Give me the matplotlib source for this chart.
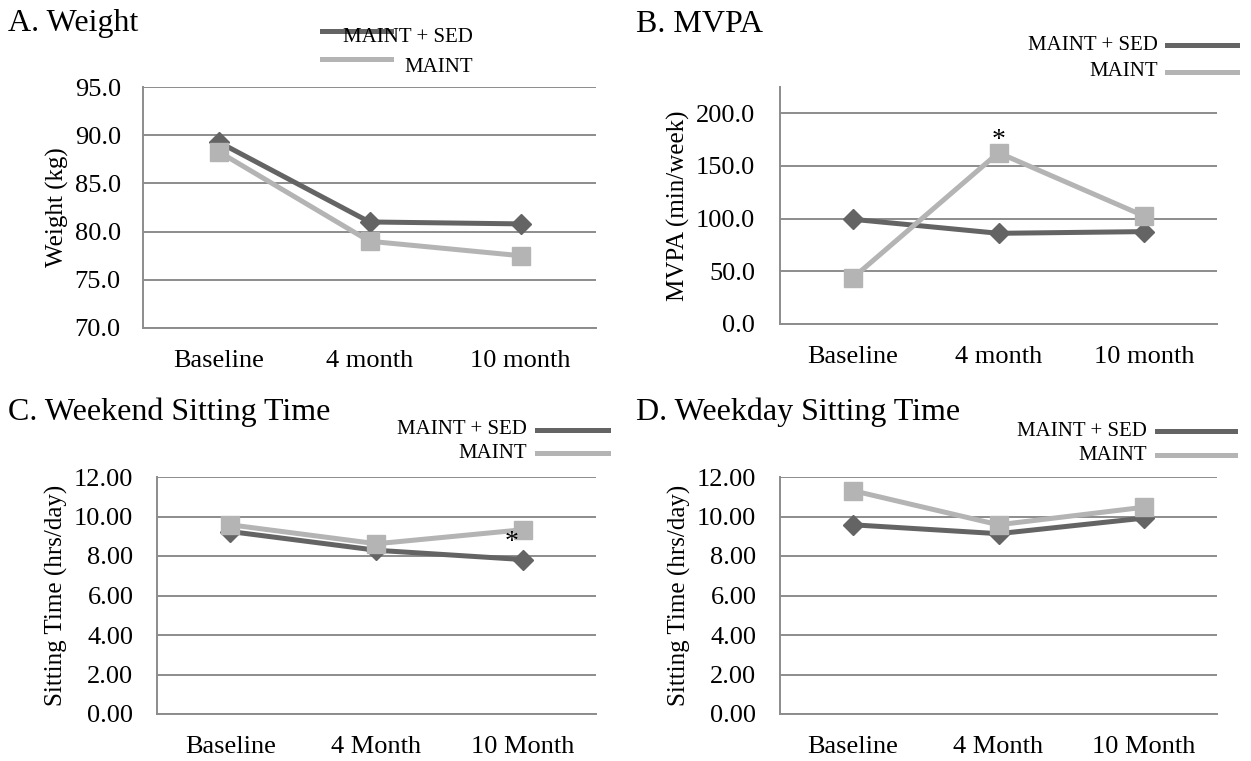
import numpy as np
import matplotlib.pyplot as plt
from matplotlib.lines import Line2D

plt.rcParams['font.family'] = ['Liberation Serif', 'DejaVu Serif']

# data
months_lower = ['Baseline', '4 month', '10 month']
months_upper = ['Baseline', '4 Month', '10 Month']

weight_sed = [89.3, 81.0, 80.8]
weight_maint = [88.3, 79.0, 77.5]

mvpa_sed = [99.4, 86.1, 87.7]
mvpa_maint = [43.7, 162.6, 102.5]

wkend_sed = [9.24, 8.29, 7.82]
wkend_maint = [9.58, 8.62, 9.33]

wkday_sed = [9.58, 9.13, 9.92]
wkday_maint = [11.31, 9.58, 10.47]

DARK = '#646464'
LIGHT = '#b4b4b4'
GRID = '#8c8c8c'
LW = 3.6

W, H = 1251, 761
fig = plt.figure(figsize=(W / 100, H / 100), dpi=100)


def px_axes(left, right, top, bottom):
    return fig.add_axes([left / W, 1 - bottom / H, (right - left) / W, (bottom - top) / H])


def style(ax, labels, ylim, yticks, fmt, ylabel, ypad=17):
    x = np.arange(len(labels))
    ax.set_xlim(-0.5, len(labels) - 0.5)
    ax.set_ylim(*ylim)
    ax.set_yticks(yticks)
    ax.set_yticklabels([fmt.format(v) for v in yticks], fontsize=19)
    ax.set_xticks(x)
    ax.set_xticklabels(labels, fontsize=19)
    ax.tick_params(length=0)
    ax.tick_params(axis='y', pad=ypad)
    ax.tick_params(axis='x', pad=16)
    for s in ['top', 'right']:
        ax.spines[s].set_visible(False)
    for s in ['left', 'bottom']:
        ax.spines[s].set_color(GRID)
        ax.spines[s].set_linewidth(1.4)
    ax.yaxis.grid(True, color=GRID, linewidth=1.4)
    ax.set_axisbelow(True)
    ax.set_ylabel(ylabel, fontsize=18, labelpad=4)
    return x


def series(ax, x, sed, maint):
    ax.plot(x, sed, color=DARK, lw=LW, marker='D', ms=10.5, mec=DARK, mfc=DARK, zorder=3)
    ax.plot(x, maint, color=LIGHT, lw=LW, marker='s', ms=13, mec=LIGHT, mfc=LIGHT, zorder=3)


def legend_right(text_right, y1, y2, line_l, line_r):
    fig.text(text_right / W, 1 - y1 / H, 'MAINT + SED', ha='right', va='center', fontsize=15)
    fig.text(text_right / W, 1 - y2 / H, 'MAINT', ha='right', va='center', fontsize=15)
    fig.add_artist(Line2D([line_l / W, line_r / W], [1 - y1 / H] * 2, color=DARK, lw=LW))
    fig.add_artist(Line2D([line_l / W, line_r / W], [1 - y2 / H] * 2, color=LIGHT, lw=LW))


# A. Weight
axA = px_axes(143, 596, 87, 328)
x = style(axA, months_lower, (70, 95), np.arange(70, 96, 5), '{:.1f}', 'Weight (kg)', ypad=16)
series(axA, x, weight_sed, weight_maint)
fig.text(8 / W, 1 - 24 / H, 'A. Weight', fontsize=23, va='center')
fig.add_artist(Line2D([322 / W, 391 / W], [1 - 31 / H] * 2, color=DARK, lw=LW))
fig.add_artist(Line2D([322 / W, 391 / W], [1 - 59 / H] * 2, color=LIGHT, lw=LW))
fig.text(473 / W, 1 - 38 / H, 'MAINT + SED', ha='right', va='center', fontsize=15)
fig.text(473 / W, 1 - 67 / H, 'MAINT', ha='right', va='center', fontsize=15)

# B. MVPA
axB = px_axes(780, 1217, 87, 324)
x = style(axB, months_lower, (0, 225), np.arange(0, 201, 50), '{:.1f}', 'MVPA (min/week)', ypad=18)
series(axB, x, mvpa_sed, mvpa_maint)
axB.annotate('*', (x[1], mvpa_maint[1]), xytext=(0, 8.5), textcoords='offset points',
             ha='center', va='center', fontsize=20)
fig.text(636 / W, 1 - 24 / H, 'B. MVPA', fontsize=23, va='center')
legend_right(1158, 45, 72, 1167, 1237)

# C. Weekend Sitting Time
axC = px_axes(157, 596, 477, 714)
x = style(axC, months_upper, (0, 12), np.arange(0, 12.1, 2), '{:.2f}', 'Sitting Time (hrs/day)')
series(axC, x, wkend_sed, wkend_maint)
axC.annotate('*', (x[2], wkend_maint[2]), xytext=(-8, -9), textcoords='offset points',
             ha='center', va='center', fontsize=20)
fig.text(8 / W, 1 - 412 / H, 'C. Weekend Sitting Time', fontsize=23, va='center')
legend_right(527, 430, 453, 537, 608)

# D. Weekday Sitting Time
axD = px_axes(780, 1217, 477, 714)
x = style(axD, months_upper, (0, 12), np.arange(0, 12.1, 2), '{:.2f}', 'Sitting Time (hrs/day)')
series(axD, x, wkday_sed, wkday_maint)
fig.text(636 / W, 1 - 412 / H, 'D. Weekday Sitting Time', fontsize=23, va='center')
legend_right(1147, 431, 455, 1157, 1235)

fig.savefig('out.png', dpi=100, facecolor='white')
